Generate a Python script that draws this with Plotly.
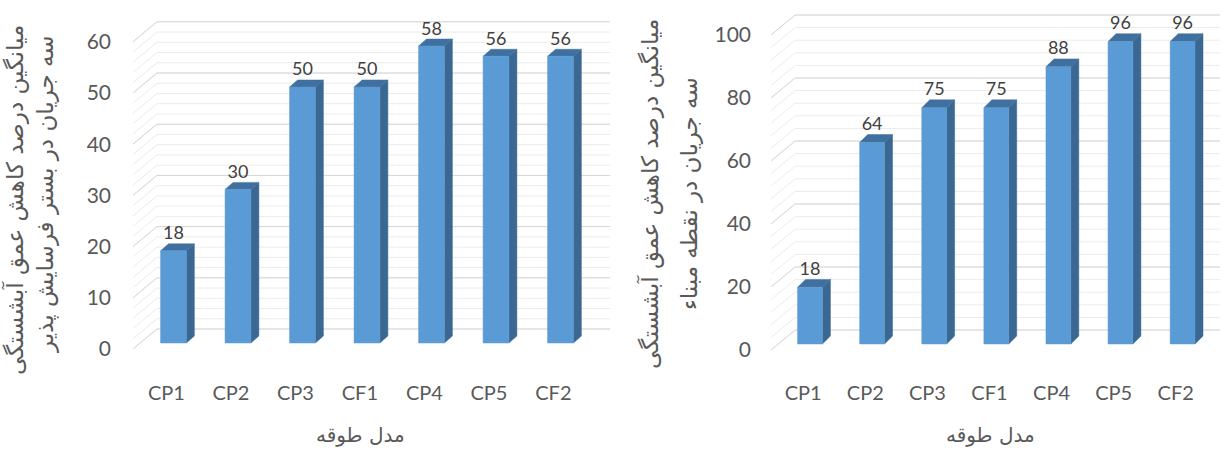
import plotly.graph_objects as go

# ---- data ----
categories = ["CP1", "CP2", "CP3", "CF1", "CP4", "CP5", "CF2"]
values_bed = [18, 30, 50, 50, 58, 56, 56]          # left chart
values_base = [18, 64, 75, 75, 88, 96, 96]        # right chart
left_ticks = [0, 10, 20, 30, 40, 50, 60]
right_ticks = [0, 20, 40, 60, 80, 100]
ytitle_line1 = "میانگین درصد کاهش عمق آبشستگی"
ytitle_left_line2 = "سه جریان در بستر فرسایش پذیر"
ytitle_right_line2 = "سه جریان در نقطه مبناء"
xtitle = "مدل طوقه"

# ---- style ----
FRONT = "#5B9BD5"
SIDE = "#3A6893"
TOP = "#40709F"
MAJOR = "#D6D6D6"
MINOR = "#EBEBEB"
TXT = "#595959"
LBL = "#404040"
FONT = "Lato, sans-serif"
AFONT = "DejaVu Sans, sans-serif"
W, H = 1224, 450

panels = [
    dict(vals=values_bed, ticks=left_ticks, minor=2, xa="x", ya="y",
         xdom=(130, 615), xrange=(-0.674, 6.845), ydom=(15, 360), yrange=(-3.32, 64.06),
         bar_w=0.40, bdx=0.124, bdy=1.37, back_dx=0.26, back_dy=2.73,
         front_dy=1.17, wall_left_back=-0.256, wall_left_front=-0.628, wall_right=6.77,
         title2=ytitle_left_line2, t1x=15, t2x=45, tcy=200, t2cy=194, xtx=360),
    dict(vals=values_base, ticks=right_ticks, minor=4, xa="x2", ya="y2",
         xdom=(770, 1224), xrange=(-0.644, 6.667), ydom=(10, 360), yrange=(-5.08, 106.03),
         bar_w=0.40, bdx=0.129, bdy=2.5, back_dx=0.27, back_dy=4.44,
         front_dy=1.9, wall_left_back=-0.24, wall_left_front=-0.628, wall_right=6.6,
         title2=ytitle_right_line2, t1x=650, t2x=689, tcy=194, t2cy=194, xtx=990),
]

fig = go.Figure()
annotations = []
layout_axes = {}

for k, p in enumerate(panels):
    xa, ya = p["xa"], p["ya"]
    top_val = p["ticks"][-1]
    # gridlines (minor then major)
    for step, color in ((p["minor"], MINOR), (p["ticks"][1] - p["ticks"][0], MAJOR)):
        gx, gy = [], []
        v = 0
        while v <= top_val + 1e-9:
            yb = v + p["back_dy"]
            yf = v - p["front_dy"]
            gx += [p["wall_left_front"], p["wall_left_back"], p["wall_right"], None]
            gy += [yf, yb, yb, None]
            v += step
        fig.add_trace(go.Scatter(x=gx, y=gy, mode="lines", xaxis=xa, yaxis=ya,
                                 line=dict(color=color, width=1), hoverinfo="skip",
                                 showlegend=False))
    # bars as 3D-like polygons
    fx, fy, sx, sy, tx, ty = [], [], [], [], [], []
    hw, dx, dy = p["bar_w"] / 2, p["bdx"], p["bdy"]
    for i, v in enumerate(p["vals"]):
        l, r = i - hw, i + hw
        fx += [l, r, r, l, l, None]
        fy += [0, 0, v, v, 0, None]
        sx += [r, r + dx, r + dx, r, r, None]
        sy += [0, dy, v + dy, v, 0, None]
        tx += [l, r, r + dx, l + dx, l, None]
        ty += [v, v, v + dy, v + dy, v, None]
    for px_, py_, col in ((sx, sy, SIDE), (tx, ty, TOP), (fx, fy, FRONT)):
        fig.add_trace(go.Scatter(x=px_, y=py_, mode="lines", fill="toself", fillcolor=col,
                                 line=dict(color=col, width=0.5), xaxis=xa, yaxis=ya,
                                 hoverinfo="skip", showlegend=False))
    # data labels
    fig.add_trace(go.Scatter(x=list(range(len(categories))),
                             y=[v + dy for v in p["vals"]],
                             mode="text", text=[str(v) for v in p["vals"]],
                             textposition="top center",
                             textfont=dict(family=FONT, size=18, color=LBL),
                             xaxis=xa, yaxis=ya, hoverinfo="skip", showlegend=False))

    xname = "xaxis" if k == 0 else "xaxis2"
    yname = "yaxis" if k == 0 else "yaxis2"
    layout_axes[xname] = dict(
        domain=[p["xdom"][0] / W, p["xdom"][1] / W], range=list(p["xrange"]),
        anchor=ya, showgrid=False, zeroline=False, showline=False, ticks="",
        tickmode="array", tickvals=[i - 0.11 for i in range(len(categories))],
        ticktext=categories, tickfont=dict(family=FONT, size=20, color=TXT),
        ticklabelstandoff=19, fixedrange=True)
    layout_axes[yname] = dict(
        domain=[1 - p["ydom"][1] / H, 1 - p["ydom"][0] / H], range=list(p["yrange"]),
        anchor=xa, showgrid=False, zeroline=False, showline=False, ticks="",
        tickmode="array", tickvals=[t - p["front_dy"] for t in p["ticks"]],
        ticktext=[str(t) for t in p["ticks"]],
        tickfont=dict(family=FONT, size=21, color=TXT),
        ticklabelstandoff=18, fixedrange=True)

    annotations.append(dict(text=ytitle_line1, x=p["t1x"] / W, y=1 - p["tcy"] / H,
                            xref="paper", yref="paper", showarrow=False, textangle=-90,
                            xanchor="center", yanchor="middle",
                            font=dict(family=AFONT, size=23, color=TXT)))
    annotations.append(dict(text=p["title2"], x=p["t2x"] / W, y=1 - p["t2cy"] / H,
                            xref="paper", yref="paper", showarrow=False, textangle=-90,
                            xanchor="center", yanchor="middle",
                            font=dict(family=AFONT, size=23, color=TXT)))
    annotations.append(dict(text=xtitle, x=p["xtx"] / W, y=1 - 435 / H,
                            xref="paper", yref="paper", showarrow=False,
                            xanchor="center", yanchor="middle",
                            font=dict(family=AFONT, size=20, color=TXT)))

fig.update_layout(width=W, height=H, margin=dict(l=0, r=0, t=0, b=0),
                  plot_bgcolor="white", paper_bgcolor="white",
                  annotations=annotations, **layout_axes)

fig.write_html("out.html", config={"displayModeBar": False, "staticPlot": True},
               post_script="document.body.style.margin='0';document.body.style.overflow='hidden';")
